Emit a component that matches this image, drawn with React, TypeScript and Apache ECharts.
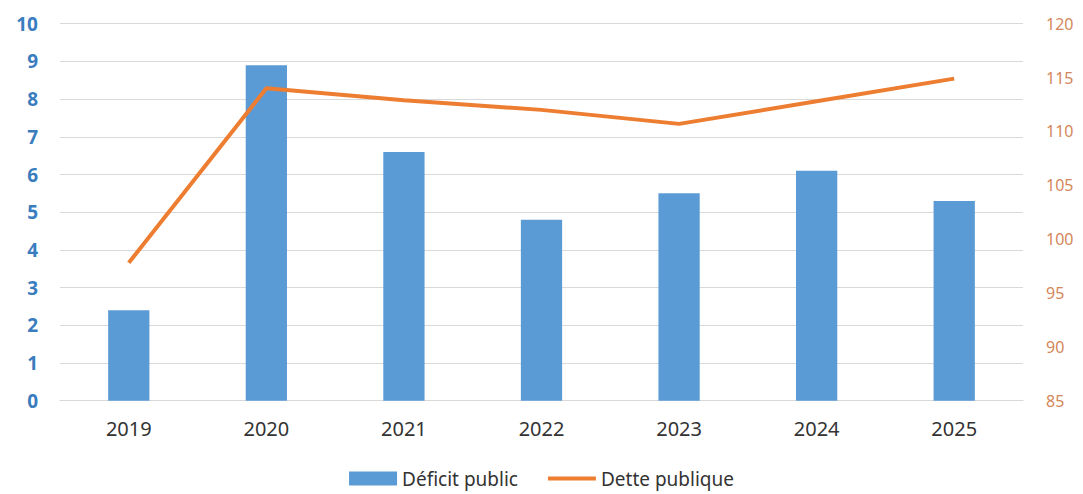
import React, { useEffect, useRef } from "react";
import * as echarts from "echarts";

const categories = ["2019", "2020", "2021", "2022", "2023", "2024", "2025"];
const deficit = [2.4, 8.9, 6.6, 4.8, 5.5, 6.1, 5.3];
const dette = [97.8, 114.0, 112.9, 112.0, 110.7, 112.8, 114.9];
const leftTicks = { min: 0, max: 10, interval: 1 };
const rightTicks = { min: 85, max: 120, interval: 5 };

export default function App() {
  const ref = useRef<HTMLDivElement>(null);
  useEffect(() => {
    if (!ref.current) return;
    const chart = echarts.init(ref.current, undefined, { renderer: "svg" });
    chart.setOption({
      animation: false,
      backgroundColor: "#ffffff",
      textStyle: { fontFamily: "Noto Sans" },
      grid: { left: 60, right: 60, top: 23.7, bottom: 93.3, containLabel: false },
      legend: {
        top: 464,
        left: "center",
        itemWidth: 48,
        itemHeight: 14,
        itemGap: 30,
        textStyle: { fontSize: 19, color: "#333333", fontFamily: "Noto Sans" },
        data: [
          { name: "Déficit public", icon: "rect" },
          { name: "Dette publique", icon: "path://M0,0 L48,0 L48,4 L0,4 Z" },
        ],
      },
      xAxis: {
        type: "category",
        data: categories,
        axisLine: { show: true, lineStyle: { color: "#d9d9d9", width: 1 } },
        axisTick: { show: false },
        axisLabel: { fontSize: 20, color: "#333333", margin: 18, fontFamily: "Noto Sans" },
      },
      yAxis: [
        {
          type: "value",
          min: leftTicks.min,
          max: leftTicks.max,
          interval: leftTicks.interval,
          axisLine: { show: false },
          axisTick: { show: false },
          splitLine: { lineStyle: { color: "#d9d9d9", width: 1 } },
          axisLabel: {
            fontSize: 19,
            fontWeight: "bold",
            color: "#3a7dbf",
            margin: 22,
            fontFamily: "Noto Sans",
          },
        },
        {
          type: "value",
          min: rightTicks.min,
          max: rightTicks.max,
          interval: rightTicks.interval,
          position: "right",
          axisLine: { show: false },
          axisTick: { show: false },
          splitLine: { show: false },
          axisLabel: {
            fontSize: 16,
            color: "#d4875a",
            margin: 23,
            fontFamily: "Noto Sans",
          },
        },
      ],
      series: [
        {
          name: "Déficit public",
          type: "bar",
          data: deficit,
          yAxisIndex: 0,
          barWidth: "30%",
          itemStyle: { color: "#5b9bd5" },
        },
        {
          name: "Dette publique",
          type: "line",
          data: dette,
          yAxisIndex: 1,
          symbol: "none",
          lineStyle: { color: "#ed7d31", width: 4 },
          itemStyle: { color: "#ed7d31" },
        },
      ],
    });
    return () => chart.dispose();
  }, []);
  return <div ref={ref} style={{ width: 1083, height: 494, position: "absolute", left: 0, top: 0 }} />;
}
